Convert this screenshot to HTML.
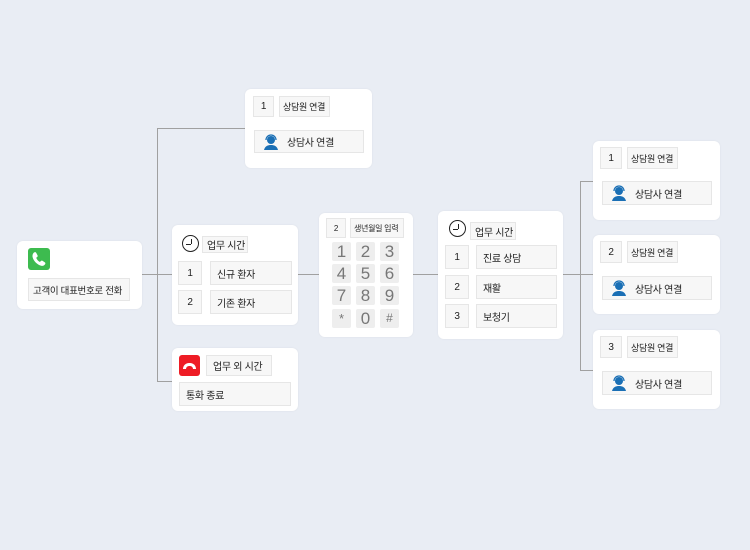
<!DOCTYPE html>
<html><head><meta charset="utf-8"><style>
body{margin:0;width:750px;height:550px;background:#e9edf4;position:relative;overflow:hidden;font-family:"Liberation Sans","Noto Sans CJK KR",sans-serif;color:#222}
.c{position:absolute;background:#fff;border-radius:6px;box-shadow:0 0 2px rgba(0,0,0,.06)}
.b{position:absolute;background:#f7f7f7;border:1px solid #e6e6e6;box-sizing:border-box;font-size:10px;display:flex;align-items:center;padding-left:6px;white-space:nowrap;letter-spacing:-0.3px}
.s{font-size:9px;padding-left:3px}
.n{justify-content:center;padding-left:0}
.l{position:absolute;background:#a0a0a0}
.k{position:absolute;width:19px;height:19px;background:#eeeeee;border-radius:2px;font-size:17px;color:#777;text-align:center;line-height:19px}
.clk{position:absolute;border:1.6px solid #222;border-radius:50%;box-sizing:border-box}
.clk:before{content:"";position:absolute;left:50%;top:20%;width:1.5px;height:32%;background:#222}
.clk:after{content:"";position:absolute;left:22%;top:50%;width:30%;height:1.5px;background:#222}
</style></head><body>
<div class="l" style="left:142px;top:274px;width:30px;height:1.2px"></div>
<div class="l" style="left:157px;top:128px;width:1.2px;height:254px"></div>
<div class="l" style="left:157px;top:128px;width:88px;height:1.2px"></div>
<div class="l" style="left:157px;top:381px;width:15px;height:1.2px"></div>
<div class="l" style="left:298px;top:274px;width:21px;height:1.2px"></div>
<div class="l" style="left:413px;top:274px;width:25px;height:1.2px"></div>
<div class="l" style="left:563px;top:274px;width:30px;height:1.2px"></div>
<div class="l" style="left:580px;top:181px;width:1.2px;height:190px"></div>
<div class="l" style="left:580px;top:181px;width:13px;height:1.2px"></div>
<div class="l" style="left:580px;top:370px;width:13px;height:1.2px"></div>

<div class="c" style="left:17px;top:241px;width:125px;height:68px"></div>
<div style="position:absolute;left:28px;top:248px;width:22px;height:22px;background:#3dbb4f;border-radius:3px"><svg width="22" height="22" viewBox="0 0 22 22"><path d="M6 4.5c1-.6 1.8-.4 2.3.5l1.2 2.3c.4.8.1 1.4-.6 1.9l-.7.5c.6 1.8 2 3.4 3.8 4.3l.6-.7c.6-.7 1.3-.8 2-.4l2.1 1.4c.8.5.9 1.3.3 2.1-1 1.3-2.3 1.8-3.8 1.3C9 16.6 5.6 13 4.6 9.1 4.2 7.4 4.8 5.4 6 4.5z" fill="#fff"/></svg></div>
<div class="b" style="left:28px;top:278px;width:102px;height:23px;font-size:9.5px;padding-left:4px">고객이 대표번호로 전화</div>

<div class="c" style="left:245px;top:89px;width:127px;height:79px"></div>
<div class="b n" style="left:253px;top:96px;width:21px;height:21px">1</div>
<div class="b s" style="left:279px;top:96px;width:51px;height:21px">상담원 연결</div>
<div class="b" style="left:254px;top:130px;width:110px;height:23px;padding-left:8px"><svg width="16" height="16" viewBox="0 0 16 16"><circle cx="8" cy="6" r="4" fill="#1a6fb5"/><path d="M3 6a5 5 0 0 1 10 0" stroke="#1a6fb5" stroke-width="1.3" fill="none"/><path d="M1 16c1-4 4-5 7-5s6 1 7 5z" fill="#1a6fb5"/></svg><span style="margin-left:8px">상담사 연결</span></div>

<div class="c" style="left:172px;top:225px;width:126px;height:100px"></div>
<div class="clk" style="left:182px;top:235px;width:17px;height:17px"></div>
<div class="b" style="left:202px;top:236px;width:46px;height:17px;padding-left:4px">업무 시간</div>
<div class="b n" style="left:178px;top:261px;width:24px;height:24px">1</div>
<div class="b" style="left:210px;top:261px;width:82px;height:24px">신규 환자</div>
<div class="b n" style="left:178px;top:290px;width:24px;height:24px">2</div>
<div class="b" style="left:210px;top:290px;width:82px;height:24px">기존 환자</div>

<div class="c" style="left:172px;top:348px;width:126px;height:63px"></div>
<div style="position:absolute;left:179px;top:355px;width:21px;height:21px;background:#ee1c25;border-radius:3px"><div style="position:absolute;left:4px;top:8px;width:13px;height:6px;border:3px solid #fff;border-bottom:none;border-radius:8px 8px 0 0;box-sizing:border-box"></div></div>
<div class="b" style="left:206px;top:355px;width:66px;height:21px">업무 외 시간</div>
<div class="b" style="left:179px;top:382px;width:112px;height:24px">통화 종료</div>

<div class="c" style="left:319px;top:213px;width:94px;height:124px"></div>
<div class="b n" style="left:326px;top:218px;width:20px;height:20px;font-size:8px">2</div>
<div class="b" style="left:350px;top:218px;width:54px;height:20px;font-size:8px;padding-left:3px">생년월일 입력</div>
<div class="k" style="left:332px;top:242px">1</div><div class="k" style="left:356px;top:242px">2</div><div class="k" style="left:380px;top:242px">3</div>
<div class="k" style="left:332px;top:264px">4</div><div class="k" style="left:356px;top:264px">5</div><div class="k" style="left:380px;top:264px">6</div>
<div class="k" style="left:332px;top:286px">7</div><div class="k" style="left:356px;top:286px">8</div><div class="k" style="left:380px;top:286px">9</div>
<div class="k" style="left:332px;top:309px;font-size:13px">*</div><div class="k" style="left:356px;top:309px">0</div><div class="k" style="left:380px;top:309px;font-size:12px">#</div>

<div class="c" style="left:438px;top:211px;width:125px;height:128px"></div>
<div class="clk" style="left:449px;top:220px;width:17px;height:17px"></div>
<div class="b" style="left:470px;top:222px;width:46px;height:18px;padding-left:4px">업무 시간</div>
<div class="b n" style="left:445px;top:245px;width:24px;height:24px">1</div>
<div class="b" style="left:476px;top:245px;width:81px;height:24px">진료 상담</div>
<div class="b n" style="left:445px;top:275px;width:24px;height:24px">2</div>
<div class="b" style="left:476px;top:275px;width:81px;height:24px">재활</div>
<div class="b n" style="left:445px;top:304px;width:24px;height:24px">3</div>
<div class="b" style="left:476px;top:304px;width:81px;height:24px">보청기</div>

<div class="c" style="left:593px;top:141px;width:127px;height:79px"></div>
<div class="b n" style="left:600px;top:147px;width:22px;height:22px">1</div>
<div class="b s" style="left:627px;top:147px;width:51px;height:22px">상담원 연결</div>
<div class="b" style="left:602px;top:181px;width:110px;height:24px;padding-left:8px"><svg width="16" height="16" viewBox="0 0 16 16"><circle cx="8" cy="6" r="4" fill="#1a6fb5"/><path d="M3 6a5 5 0 0 1 10 0" stroke="#1a6fb5" stroke-width="1.3" fill="none"/><path d="M1 16c1-4 4-5 7-5s6 1 7 5z" fill="#1a6fb5"/></svg><span style="margin-left:8px">상담사 연결</span></div>

<div class="c" style="left:593px;top:235px;width:127px;height:79px"></div>
<div class="b n" style="left:600px;top:241px;width:22px;height:22px">2</div>
<div class="b s" style="left:627px;top:241px;width:51px;height:22px">상담원 연결</div>
<div class="b" style="left:602px;top:276px;width:110px;height:24px;padding-left:8px"><svg width="16" height="16" viewBox="0 0 16 16"><circle cx="8" cy="6" r="4" fill="#1a6fb5"/><path d="M3 6a5 5 0 0 1 10 0" stroke="#1a6fb5" stroke-width="1.3" fill="none"/><path d="M1 16c1-4 4-5 7-5s6 1 7 5z" fill="#1a6fb5"/></svg><span style="margin-left:8px">상담사 연결</span></div>

<div class="c" style="left:593px;top:330px;width:127px;height:79px"></div>
<div class="b n" style="left:600px;top:336px;width:22px;height:22px">3</div>
<div class="b s" style="left:627px;top:336px;width:51px;height:22px">상담원 연결</div>
<div class="b" style="left:602px;top:371px;width:110px;height:24px;padding-left:8px"><svg width="16" height="16" viewBox="0 0 16 16"><circle cx="8" cy="6" r="4" fill="#1a6fb5"/><path d="M3 6a5 5 0 0 1 10 0" stroke="#1a6fb5" stroke-width="1.3" fill="none"/><path d="M1 16c1-4 4-5 7-5s6 1 7 5z" fill="#1a6fb5"/></svg><span style="margin-left:8px">상담사 연결</span></div>
</body></html>
